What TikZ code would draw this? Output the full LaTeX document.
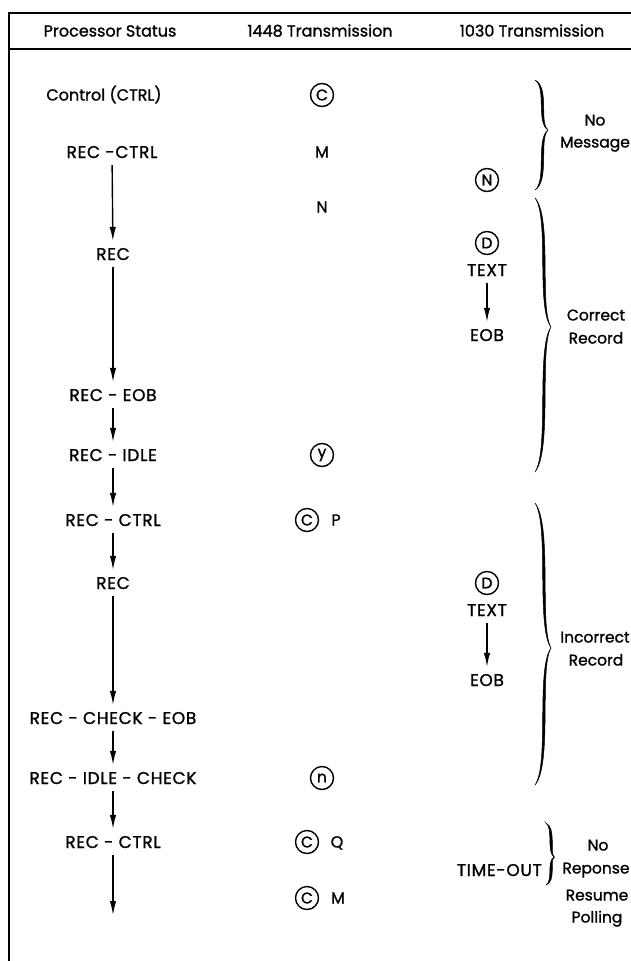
\documentclass[tikz,border=0pt]{standalone}
\usepackage{fontspec}
\setmainfont{Poppins}[FakeBold=1.2]
\newfontfamily\capsfont{Poppins}[FakeBold=1.2,LetterSpace=4]
\usetikzlibrary{arrows.meta}
\newcommand{\tbrace}[5]{%
 \filldraw[line width=0.5pt] ({#1},{#2}) .. controls ({#1+0.9*#5},{#2+0.15*(#3-#2)}) and ({#1+0.05*#5},{#3-0.15*(#3-#2)}) .. ({#1+#5},{#3})
   .. controls ({#1+0.05*#5+3.2},{#3-0.15*(#3-#2)}) and ({#1+0.9*#5+3.2},{#2+0.15*(#3-#2)}) .. cycle;
 \filldraw[line width=0.5pt] ({#1+#5},{#3}) .. controls ({#1+0.05*#5},{#3+0.15*(#4-#3)}) and ({#1+0.9*#5},{#4-0.15*(#4-#3)}) .. ({#1},{#4})
   .. controls ({#1+0.9*#5+3.2},{#4-0.15*(#4-#3)}) and ({#1+0.05*#5+3.2},{#3+0.15*(#4-#3)}) .. cycle;
}
\begin{document}
\begin{tikzpicture}[x=1pt,y=-1pt,
  txt/.style={font=\fontsize{16}{19}\selectfont, inner sep=0pt, text height=11pt, text depth=0pt},
  rtxt/.style={font=\fontsize{15.5}{19}\selectfont, inner sep=0pt, text height=11pt, text depth=0pt},
  st/.style={font=\capsfont\fontsize{17}{20}\selectfont, inner sep=0pt, inner ysep=7pt, text height=12pt, text depth=0pt},
  circ/.style={circle, draw, line width=1.4pt, minimum size=23pt, inner sep=0pt, font=\fontsize{15.5}{17}\selectfont},
  arr/.style={line width=1.4pt, -{Latex[length=14pt,width=6.5pt]}},
  frame/.style={line width=1.8pt}]
\useasboundingbox (0,0) rectangle (631,961);
% frame
\draw[frame] (9,961) -- (9,13) -- (631,13);
\draw[frame] (9,49) -- (631,49);
% header
\node[txt] (h1) at (110,31) {Processor Status};
\node[txt] (h2) at (320,31) {1448 Transmission};
\node[txt] (h3) at (532,31) {1030 Transmission};
% processor status column
\node[txt] (ctrl) at (104,95) {Control (CTRL)};
\node[st] (rc1) at (112,152) {REC -CTRL};
\node[st] (rec1) at (113,254) {REC};
\node[st] (reob) at (113,395) {REC - EOB};
\node[st] (ridle) at (113,455) {REC - IDLE};
\node[st] (rc2) at (113,520) {REC - CTRL};
\node[st] (rec2) at (113,583) {REC};
\node[st] (rce) at (113,718) {REC - CHECK - EOB};
\node[st] (ric) at (113,778) {REC - IDLE - CHECK};
\node[st] (rc3) at (113,842) {REC - CTRL};
\coordinate (end) at (113,915);
\draw[arr] (rc1) -- (rec1);
\draw[arr] (rec1) -- (reob);
\draw[arr] (reob) -- (ridle);
\draw[arr] (ridle) -- (rc2);
\draw[arr] (rc2) -- (rec2);
\draw[arr] (rec2) -- (rce);
\draw[arr] (rce) -- (ric);
\draw[arr] (ric) -- (rc3);
\draw[arr] (rc3) -- (end);
% 1448 column
\node[circ] (c1) at (322,95) {C};
\node[txt] (m1) at (322,152) {M};
\node[txt] (n1) at (322,207) {N};
\node[circ] (y1) at (322,455) {y};
\node[circ] (c2) at (307,520) {C};
\node[txt] (p1) at (336,520) {P};
\node[circ] (n2) at (322,778) {n};
\node[circ] (c3) at (307,842) {C};
\node[txt] (q1) at (337,842) {Q};
\node[circ] (c4) at (307,898) {C};
\node[txt] (m2) at (338,898) {M};
% 1030 column
\node[circ] (nn) at (487,180) {N};
\node[circ] (d1) at (487,243) {D};
\node[st] (t1) at (487,270) {TEXT};
\node[st] (e1) at (487,335) {EOB};
\draw[arr] (t1) -- (e1);
\node[circ] (d2) at (487,583) {D};
\node[st] (t2) at (487,610) {TEXT};
\node[st] (e2) at (487,680) {EOB};
\draw[arr] (t2) -- (e2);
\node[st, inner ysep=0pt, anchor=east] (to) at (542,870) {TIME-OUT};
% braces
\tbrace{535}{80}{130}{190}{13}
\tbrace{535}{198}{327}{472}{16}
\tbrace{535}{503}{648}{785}{16}
\tbrace{546}{823}{857}{885}{8}
% right labels
\node[rtxt] (no1) at (595,120) {No};
\node[rtxt] (msg) at (595,142) {Message};
\node[rtxt] (cor) at (596,315) {Correct};
\node[rtxt] (rec3) at (596,338) {Record};
\node[rtxt] (inc) at (595,637) {Incorrect};
\node[rtxt] (rec4) at (596,660) {Record};
\node[rtxt] (no2) at (598,845) {No};
\node[rtxt] (rep) at (596,868) {Reponse};
\node[rtxt] (res) at (597,895) {Resume};
\node[rtxt] (pol) at (597,917) {Polling};
\end{tikzpicture}
\end{document}
